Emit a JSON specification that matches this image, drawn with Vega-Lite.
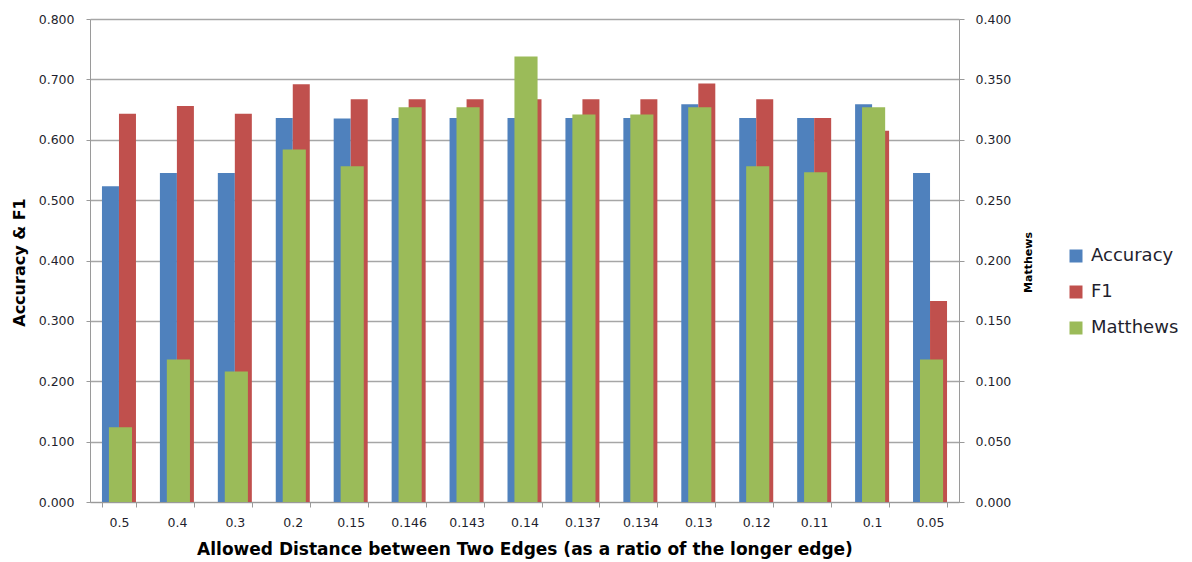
{
  "$schema": "https://vega.github.io/schema/vega-lite/v6.json",
  "autosize": {"type": "none"},
  "width": 869,
  "height": 483,
  "padding": {"left": 90, "top": 19, "right": 233, "bottom": 60},
  "background": "white",
  "config": {
    "view": {"stroke": null},
    "font": "DejaVu Sans",
    "axis": {"labelFont": "DejaVu Sans", "titleFont": "DejaVu Sans", "labelColor": "#1f1f2e", "titleColor": "#000000", "domainColor": "#9a9a9a", "tickColor": "#9a9a9a", "gridColor": "#a6a6a6"}
  },
  "data": {"values": [
    {"d": "0.5", "metric": "Accuracy", "value": 0.523},
    {"d": "0.5", "metric": "F1", "value": 0.643},
    {"d": "0.5", "metric": "Matthews", "value": 0.062},
    {"d": "0.4", "metric": "Accuracy", "value": 0.545},
    {"d": "0.4", "metric": "F1", "value": 0.656},
    {"d": "0.4", "metric": "Matthews", "value": 0.118},
    {"d": "0.3", "metric": "Accuracy", "value": 0.545},
    {"d": "0.3", "metric": "F1", "value": 0.643},
    {"d": "0.3", "metric": "Matthews", "value": 0.108},
    {"d": "0.2", "metric": "Accuracy", "value": 0.636},
    {"d": "0.2", "metric": "F1", "value": 0.692},
    {"d": "0.2", "metric": "Matthews", "value": 0.292},
    {"d": "0.15", "metric": "Accuracy", "value": 0.635},
    {"d": "0.15", "metric": "F1", "value": 0.667},
    {"d": "0.15", "metric": "Matthews", "value": 0.278},
    {"d": "0.146", "metric": "Accuracy", "value": 0.636},
    {"d": "0.146", "metric": "F1", "value": 0.667},
    {"d": "0.146", "metric": "Matthews", "value": 0.327},
    {"d": "0.143", "metric": "Accuracy", "value": 0.636},
    {"d": "0.143", "metric": "F1", "value": 0.667},
    {"d": "0.143", "metric": "Matthews", "value": 0.327},
    {"d": "0.14", "metric": "Accuracy", "value": 0.636},
    {"d": "0.14", "metric": "F1", "value": 0.667},
    {"d": "0.14", "metric": "Matthews", "value": 0.369},
    {"d": "0.137", "metric": "Accuracy", "value": 0.636},
    {"d": "0.137", "metric": "F1", "value": 0.667},
    {"d": "0.137", "metric": "Matthews", "value": 0.321},
    {"d": "0.134", "metric": "Accuracy", "value": 0.636},
    {"d": "0.134", "metric": "F1", "value": 0.667},
    {"d": "0.134", "metric": "Matthews", "value": 0.321},
    {"d": "0.13", "metric": "Accuracy", "value": 0.659},
    {"d": "0.13", "metric": "F1", "value": 0.693},
    {"d": "0.13", "metric": "Matthews", "value": 0.327},
    {"d": "0.12", "metric": "Accuracy", "value": 0.636},
    {"d": "0.12", "metric": "F1", "value": 0.667},
    {"d": "0.12", "metric": "Matthews", "value": 0.278},
    {"d": "0.11", "metric": "Accuracy", "value": 0.636},
    {"d": "0.11", "metric": "F1", "value": 0.636},
    {"d": "0.11", "metric": "Matthews", "value": 0.273},
    {"d": "0.1", "metric": "Accuracy", "value": 0.659},
    {"d": "0.1", "metric": "F1", "value": 0.615},
    {"d": "0.1", "metric": "Matthews", "value": 0.327},
    {"d": "0.05", "metric": "Accuracy", "value": 0.545},
    {"d": "0.05", "metric": "F1", "value": 0.333},
    {"d": "0.05", "metric": "Matthews", "value": 0.118}
  ]},
  "encoding": {
    "x": {
      "field": "d", "type": "nominal", "sort": null,
      "scale": {"paddingInner": 0.413, "paddingOuter": 0.2065},
      "axis": {
        "title": "Allowed Distance between Two Edges (as a ratio of the longer edge)",
        "labelAngle": 0, "labelFontSize": 12.5, "labelPadding": 9, "tickSize": 5, "tickBand": "extent",
        "titleFontSize": 17, "titleFontWeight": "bold", "titleX": 434.5, "titleY": 47, "titleBaseline": "middle", "titleAlign": "center"
      }
    },
    "color": {
      "field": "metric", "type": "nominal",
      "scale": {"domain": ["Accuracy", "F1", "Matthews"], "range": ["#4F81BD", "#C0504D", "#9BBB59"]},
      "legend": {
        "title": null, "orient": "none", "legendX": 977, "legendY": 228,
        "symbolType": "square", "symbolSize": 169, "symbolStrokeWidth": 0, "symbolOpacity": 1,
        "labelFontSize": 18, "labelFont": "DejaVu Sans", "labelColor": "#1f1f2e", "labelOffset": 6, "rowPadding": 18
      }
    }
  },
  "layer": [
    {
      "transform": [{"filter": "datum.metric !== 'Matthews'"}],
      "mark": {"type": "bar"},
      "encoding": {
        "xOffset": {"field": "metric", "type": "nominal", "scale": {"domain": ["Accuracy", "F1"], "paddingInner": 0, "paddingOuter": 0}},
        "y": {
          "field": "value", "type": "quantitative",
          "scale": {"domain": [0, 0.8], "nice": false},
          "axis": {
            "title": "Accuracy & F1", "values": [0, 0.1, 0.2, 0.3, 0.4, 0.5, 0.6, 0.7, 0.8], "format": ".3f",
            "labelFontSize": 12.5, "labelPadding": 12, "tickSize": 4, "grid": true, "gridWidth": 1.3,
            "titleFontSize": 16, "titleFontWeight": "bold", "titleAngle": -90, "titleX": -71, "titleY": 243, "titleBaseline": "middle", "titleAlign": "center"
          }
        }
      }
    },
    {
      "transform": [{"filter": "datum.metric === 'Matthews'"}],
      "mark": {"type": "bar", "width": {"band": 0.68}, "xOffset": 1.5},
      "encoding": {
        "y": {
          "field": "value", "type": "quantitative",
          "scale": {"domain": [0, 0.4], "nice": false},
          "axis": {
            "orient": "right", "title": "Matthews", "values": [0, 0.05, 0.1, 0.15, 0.2, 0.25, 0.3, 0.35, 0.4], "format": ".3f",
            "labelFontSize": 12.5, "labelPadding": 11, "tickSize": 5, "grid": false,
            "titleFontSize": 11, "titleFontWeight": "bold", "titleAngle": -90, "titleX": 69, "titleY": 243, "titleBaseline": "middle", "titleAlign": "center"
          }
        }
      }
    }
  ],
  "resolve": {"scale": {"y": "independent"}}
}
